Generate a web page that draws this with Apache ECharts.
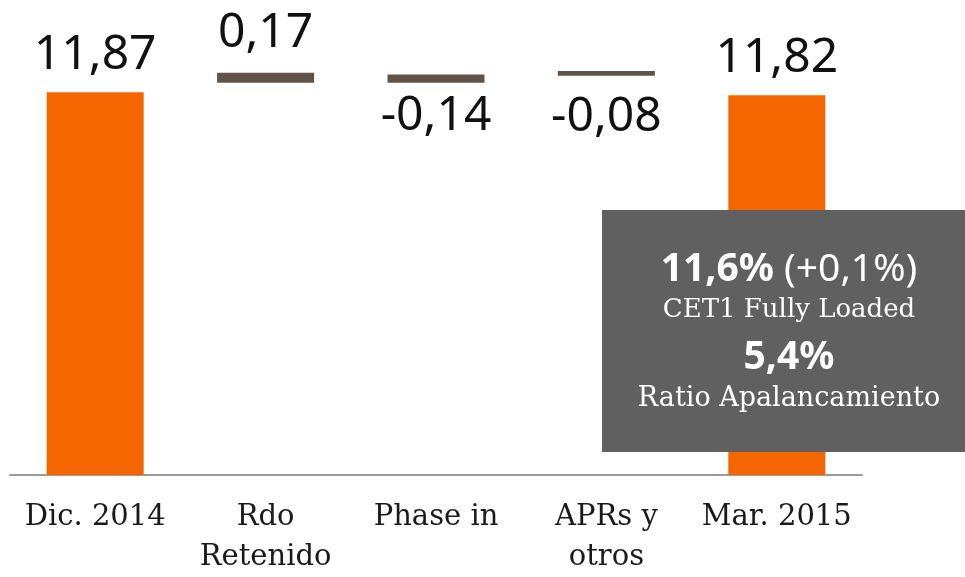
<!DOCTYPE html>
<html>
<head>
<meta charset="utf-8">
<script src="https://cdn.jsdelivr.net/npm/echarts@6/dist/echarts.min.js"></script>
<style>
  html, body { margin: 0; padding: 0; background: #fff; }
  #chart { width: 965px; height: 577px; }
</style>
</head>
<body>
<div id="chart"></div>
<script>
  // categorias del eje x
  const categories = ['Dic. 2014', 'Rdo\nRetenido', 'Phase in', 'APRs y\notros', 'Mar. 2015']
  // variacion de cada barra (los totales son el valor absoluto)
  const changes = [11.87, 0.17, -0.14, -0.08, 11.82]
  // base invisible de las barras flotantes
  const bases = [0, 12.03, 12.03, 12.15, 0]
  const isTotal = [true, false, false, false, true]

  const orange = '#F56600'
  const brown = '#615349'
  const fmt = v => v.toFixed(2).replace('.', ',')

  const myChart = echarts.init(document.getElementById('chart'))

  const labelDist = [13, 15, 10, 18, 13]
  const visible = changes.map((v, i) => ({
    value: Math.abs(v),
    itemStyle: { color: isTotal[i] ? orange : brown },
    label: {
      position: v < 0 ? 'bottom' : 'top',
      distance: labelDist[i]
    }
  }))

  const option = {
    animation: false,
    grid: { left: 10, right: 103, top: 49, bottom: 96 },
    xAxis: {
      type: 'category',
      data: categories,
      axisTick: { show: false },
      axisLine: { lineStyle: { color: '#9a9a9a', width: 2 } },
      axisLabel: {
        fontFamily: 'DejaVu Serif',
        fontSize: 29,
        color: '#1a1a1a',
        lineHeight: 40,
        margin: 22,
        interval: 0
      }
    },
    yAxis: {
      type: 'value',
      min: 5.4,
      max: 12.6,
      show: false,
      splitLine: { show: false }
    },
    series: [
      {
        type: 'bar',
        stack: 'w',
        barWidth: 97,
        itemStyle: { color: 'transparent' },
        silent: true,
        data: bases
      },
      {
        type: 'bar',
        stack: 'w',
        barWidth: 97,
        data: visible,
        label: {
          show: true,
          fontFamily: 'Noto Sans',
          fontSize: 48,
          color: '#111',
          formatter: p => fmt(changes[p.dataIndex])
        }
      }
    ],
    graphic: [
      {
        type: 'rect',
        z: 100,
        shape: { x: 602, y: 210, width: 363, height: 242 },
        style: { fill: '#606060' }
      },
      {
        type: 'text',
        z: 101,
        x: 789,
        y: 270,
        style: {
          text: '{b|11,6%}{r| (+0,1%)}',
          align: 'center',
          verticalAlign: 'middle',
          fill: '#fff',
          rich: {
            b: { fontFamily: 'Noto Sans', fontWeight: 'bold', fontSize: 39, fill: '#fff' },
            r: { fontFamily: 'Noto Sans', fontSize: 39, fill: '#fff' }
          }
        }
      },
      {
        type: 'text',
        z: 101,
        x: 789,
        y: 310,
        style: {
          text: 'CET1 Fully Loaded',
          align: 'center',
          verticalAlign: 'middle',
          fill: '#fff',
          font: '26px "DejaVu Serif"'
        }
      },
      {
        type: 'text',
        z: 101,
        x: 789,
        y: 358,
        style: {
          text: '5,4%',
          align: 'center',
          verticalAlign: 'middle',
          fill: '#fff',
          font: 'bold 39px "Noto Sans"'
        }
      },
      {
        type: 'text',
        z: 101,
        x: 789,
        y: 399,
        style: {
          text: 'Ratio Apalancamiento',
          align: 'center',
          verticalAlign: 'middle',
          fill: '#fff',
          font: '27px "DejaVu Serif"'
        }
      }
    ]
  }
  myChart.setOption(option)
</script>
</body>
</html>
